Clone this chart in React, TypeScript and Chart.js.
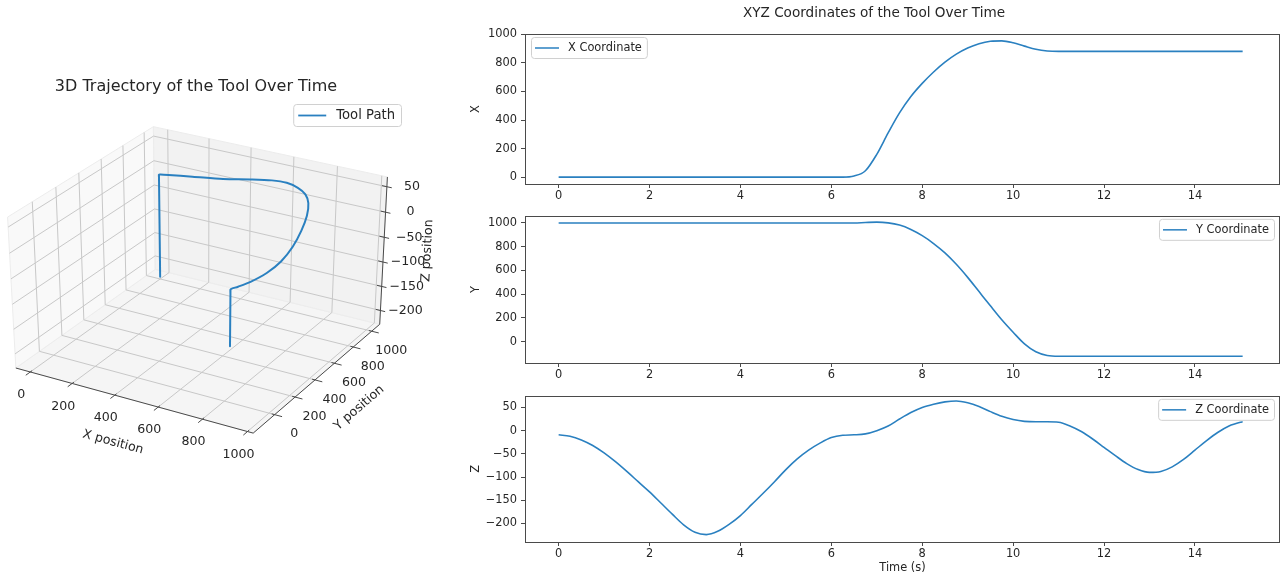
import React, { useEffect, useRef } from 'react';
import { Chart, registerables } from 'chart.js';

Chart.register(...registerables);
Chart.defaults.font.family = "'DejaVu Sans', sans-serif";

// ---------------- data ----------------
const TIME = [
  0, 0.25, 0.5, 0.75, 1, 1.25, 1.5, 1.75, 2, 2.25, 2.5, 2.75, 3, 3.25, 3.5, 3.75,
  4, 4.25, 4.5, 4.75, 5, 5.25, 5.5, 5.75, 6, 6.25, 6.5, 6.75, 7, 7.25, 7.5, 7.75,
  8, 8.25, 8.5, 8.75, 9, 9.25, 9.5, 9.75, 10, 10.25, 10.5, 10.75, 11, 11.25, 11.5, 11.75,
  12, 12.25, 12.5, 12.75, 13, 13.25, 13.5, 13.75, 14, 14.25, 14.5, 14.75, 15, 15.05,
];

const X_COORD = [
  0, 0, 0, 0, 0, 0, 0, 0, 0, 0, 0, 0, 0, 0, 0, 0,
  0, 0, 0, 0, 0, 0, 0, 0, 0, 0, 8, 45, 160, 310, 450, 565,
  657, 737, 806, 862, 905, 935, 952, 955, 942, 918, 896, 884, 881, 881, 881, 881,
  881, 881, 881, 881, 881, 881, 881, 881, 881, 881, 881, 881, 881, 881,
];

const Y_COORD = [
  1000, 1000, 1000, 1000, 1000, 1000, 1000, 1000, 1000, 1000, 1000, 1000, 1000, 1000, 1000, 1000,
  1000, 1000, 1000, 1000, 1000, 1000, 1000, 1000, 1000, 1000, 1000, 1004, 1007, 1001, 982, 945,
  893, 827, 748, 652, 542, 422, 302, 185, 80, -18, -85, -116, -122, -122, -122, -122,
  -122, -122, -122, -122, -122, -122, -122, -122, -122, -122, -122, -122, -122, -122,
];

const Z_COORD = [
  -9, -12, -20, -32, -48, -67, -88, -110, -132, -156, -180, -203, -219, -224, -217, -202,
  -183, -159, -135, -110, -84, -61, -42, -27, -15, -10, -9, -7, 0, 10, 25, 39,
  50, 57, 62, 64, 60, 52, 41, 31, 24, 20, 19, 19, 18, 10, -2, -18,
  -36, -54, -71, -84, -90, -88, -78, -62, -42, -22, -4, 10, 18, 19,
];

const TIME_TICKS = [0, 2, 4, 6, 8, 10, 12, 14];
const X_TICKS = [0, 200, 400, 600, 800, 1000];
const Y_TICKS = [0, 200, 400, 600, 800, 1000];
const Z_TICKS = [-200, -150, -100, -50, 0, 50];

const TITLE_2D = 'XYZ Coordinates of the Tool Over Time';
const TITLE_3D = '3D Trajectory of the Tool Over Time';

// ---------------- styles ----------------
const LINE = '#2a80c0';
const AXIS = '#4a4a4a';
const TEXT = '#262626';
const FONT = "'DejaVu Sans', sans-serif";
const FS = 11.4;
const FS3 = 12.6;

const fmt = (v: number) => (v < 0 ? '\u2212' + Math.abs(v) : String(v));

// ---------------- 3D projection (matplotlib style) ----------------
const LIM3 = { x: [-70, 1025], y: [-204, 1089], z: [-229, 69] };
const ELEV = 30;
const AZIM = -60;
const DIST = 10;
const BOX = [4, 4, 3].map((v) => (v * 1.8294640721620434) / Math.sqrt(41));

function project(x: number, y: number, z: number): [number, number] {
  const d = [
    ((x - LIM3.x[0]) / (LIM3.x[1] - LIM3.x[0]) - 0.5) * BOX[0],
    ((y - LIM3.y[0]) / (LIM3.y[1] - LIM3.y[0]) - 0.5) * BOX[1],
    ((z - LIM3.z[0]) / (LIM3.z[1] - LIM3.z[0]) - 0.5) * BOX[2],
  ];
  const e = (ELEV * Math.PI) / 180;
  const a = (AZIM * Math.PI) / 180;
  const w = [Math.cos(e) * Math.cos(a), Math.cos(e) * Math.sin(a), Math.sin(e)];
  const un = Math.hypot(w[0], w[1]);
  const u = [-w[1] / un, w[0] / un, 0];
  const v = [w[1] * u[2] - w[2] * u[1], w[2] * u[0] - w[0] * u[2], w[0] * u[1] - w[1] * u[0]];
  const dot = (p: number[], q: number[]) => p[0] * q[0] + p[1] * q[1] + p[2] * q[2];
  const den = DIST - dot(w, d);
  return [dot(u, d) / den, dot(v, d) / den];
}

// screen mapping of the projected plane (canvas 440 x 576)
const P3_X = { min: (0 - 201) / 2380, max: (440 - 201) / 2380 };
const P3_Y = { min: (272.8 - 576) / 2008, max: 272.8 / 2008 };

function roundRect(ctx: CanvasRenderingContext2D, x: number, y: number, w: number, h: number, r: number) {
  ctx.beginPath();
  ctx.moveTo(x + r, y);
  ctx.lineTo(x + w - r, y);
  ctx.arcTo(x + w, y, x + w, y + r, r);
  ctx.lineTo(x + w, y + h - r);
  ctx.arcTo(x + w, y + h, x + w - r, y + h, r);
  ctx.lineTo(x + r, y + h);
  ctx.arcTo(x, y + h, x, y + h - r, r);
  ctx.lineTo(x, y + r);
  ctx.arcTo(x, y, x + r, y, r);
  ctx.closePath();
}

function make3D(canvas: HTMLCanvasElement) {
  const plugin = {
    id: 'axes3d',
    beforeDatasetsDraw(chart: any) {
      const ctx: CanvasRenderingContext2D = chart.ctx;
      const sx = chart.scales.x;
      const sy = chart.scales.y;
      const P = (x: number, y: number, z: number) => {
        const [a, b] = project(x, y, z);
        return [sx.getPixelForValue(a), sy.getPixelForValue(b)];
      };
      const [x0, x1] = LIM3.x;
      const [y0, y1] = LIM3.y;
      const [z0, z1] = LIM3.z;
      const Xs = x1 - x0;
      const Ys = y1 - y0;
      ctx.save();
      const poly = (pts: number[][], fill: string) => {
        ctx.beginPath();
        pts.forEach((p, i) => {
          const [px, py] = P(p[0], p[1], p[2]);
          if (i === 0) ctx.moveTo(px, py);
          else ctx.lineTo(px, py);
        });
        ctx.closePath();
        ctx.fillStyle = fill;
        ctx.fill();
        ctx.strokeStyle = 'rgb(236,236,236)';
        ctx.lineWidth = 1;
        ctx.stroke();
      };
      poly([[x0, y0, z0], [x1, y0, z0], [x1, y1, z0], [x0, y1, z0]], 'rgb(245,245,245)');
      poly([[x0, y0, z0], [x0, y1, z0], [x0, y1, z1], [x0, y0, z1]], 'rgb(249,249,249)');
      poly([[x0, y1, z0], [x1, y1, z0], [x1, y1, z1], [x0, y1, z1]], 'rgb(242,242,242)');

      const seg = (p: number[], q: number[]) => {
        const [ax, ay] = P(p[0], p[1], p[2]);
        const [bx, by] = P(q[0], q[1], q[2]);
        ctx.beginPath();
        ctx.moveTo(ax, ay);
        ctx.lineTo(bx, by);
        ctx.stroke();
      };
      // grid
      ctx.strokeStyle = 'rgb(200,200,200)';
      ctx.lineWidth = 1;
      X_TICKS.forEach((x) => {
        seg([x, y0, z0], [x, y1, z0]);
        seg([x, y1, z0], [x, y1, z1]);
      });
      Y_TICKS.forEach((y) => {
        seg([x0, y, z0], [x1, y, z0]);
        seg([x0, y, z0], [x0, y, z1]);
      });
      Z_TICKS.forEach((z) => {
        seg([x0, y0, z], [x0, y1, z]);
        seg([x0, y1, z], [x1, y1, z]);
      });
      // axis lines
      ctx.strokeStyle = AXIS;
      ctx.lineWidth = 1;
      seg([x0, y0, z0], [x1, y0, z0]);
      seg([x1, y0, z0], [x1, y1, z0]);
      seg([x1, y1, z0], [x1, y1, z1]);
      // ticks
      X_TICKS.forEach((x) => seg([x, y0 + 0.012 * Ys, z0], [x, y0 - 0.03 * Ys, z0]));
      Y_TICKS.forEach((y) => seg([x1 - 0.012 * Xs, y, z0], [x1 + 0.03 * Xs, y, z0]));
      Z_TICKS.forEach((z) => seg([x1 - 0.02 * Xs, y1, z], [x1 + 0.02 * Xs, y1, z]));

      // tick labels
      ctx.fillStyle = TEXT;
      ctx.font = `${FS3}px ${FONT}`;
      ctx.textAlign = 'center';
      ctx.textBaseline = 'middle';
      X_TICKS.forEach((x) => {
        const [px, py] = P(x, y0, z0);
        ctx.fillText(fmt(x), px - 9, py + 23);
      });
      Y_TICKS.forEach((y) => {
        const [px, py] = P(x1, y, z0);
        ctx.fillText(fmt(y), px + 19.5, py + 19.5);
      });
      Z_TICKS.forEach((z) => {
        const [px, py] = P(x1, y1, z);
        ctx.fillText(fmt(z), px + 25, py);
      });

      // axis labels
      const label = (text: string, p: number[], q: number[], dx: number, dy: number) => {
        const [ax, ay] = P(p[0], p[1], p[2]);
        const [bx, by] = P(q[0], q[1], q[2]);
        let ang = Math.atan2(by - ay, bx - ax);
        if (ang > Math.PI / 2) ang -= Math.PI;
        if (ang <= -Math.PI / 2) ang += Math.PI;
        ctx.save();
        ctx.translate((ax + bx) / 2 + dx, (ay + by) / 2 + dy);
        ctx.rotate(ang);
        ctx.fillText(text, 0, 0);
        ctx.restore();
      };
      label('X position', [x0, y0, z0], [x1, y0, z0], -21.5, 41.7);
      label('Y position', [x1, y0, z0], [x1, y1, z0], 42.7, 29.2);
      label('Z position', [x1, y1, z0], [x1, y1, z1], 44, 0);

      // title
      ctx.font = `16px ${FONT}`;
      ctx.fillText(TITLE_3D, 196, 87);
      ctx.restore();
    },
    afterDatasetsDraw(chart: any) {
      const ctx: CanvasRenderingContext2D = chart.ctx;
      ctx.save();
      ctx.font = `13.2px ${FONT}`;
      const text = chart.data.datasets[0].label;
      const tw = ctx.measureText(text).width;
      const bw = tw + 49;
      const bh = 22;
      const bx = 401.5 - bw;
      const by = 104.5;
      roundRect(ctx, bx, by, bw, bh, 3);
      ctx.fillStyle = 'rgba(255,255,255,0.8)';
      ctx.fill();
      ctx.strokeStyle = '#d0d0d0';
      ctx.lineWidth = 1;
      ctx.stroke();
      ctx.strokeStyle = LINE;
      ctx.lineWidth = 1.8;
      ctx.beginPath();
      ctx.moveTo(bx + 4.5, by + bh / 2);
      ctx.lineTo(bx + 32.5, by + bh / 2);
      ctx.stroke();
      ctx.fillStyle = TEXT;
      ctx.textAlign = 'left';
      ctx.textBaseline = 'middle';
      ctx.fillText(text, bx + 42.5, by + bh / 2 + 0.5);
      ctx.restore();
    },
  };

  return new Chart(canvas, {
    type: 'scatter',
    data: {
      datasets: [
        {
          label: 'Tool Path',
          data: TIME.map((_, i) => {
            const [px, py] = project(X_COORD[i], Y_COORD[i], Z_COORD[i]);
            return { x: px, y: py };
          }),
          showLine: true,
          borderColor: LINE,
          borderWidth: 2,
          pointRadius: 0,
          tension: 0.3,
        },
      ],
    },
    options: {
      animation: false,
      responsive: false,
      events: [],
      layout: { padding: 0, autoPadding: false },
      plugins: { legend: { display: false }, tooltip: { enabled: false } },
      scales: {
        x: { type: 'linear', display: false, min: P3_X.min, max: P3_X.max },
        y: { type: 'linear', display: false, min: P3_Y.min, max: P3_Y.max },
      },
    },
    plugins: [plugin],
  } as any);
}

type SeriesCfg = {
  values: number[];
  label: string;
  ymin: number;
  ymax: number;
  yticks: number[];
  padTop: number;
  xAxisH: number;
  legendSide: 'left' | 'right';
  axisTitle: string;
  title?: string;
  xTitle?: string;
};

function makeSeries(canvas: HTMLCanvasElement, cfg: SeriesCfg) {
  const plugin = {
    id: 'frame',
    afterDatasetsDraw(chart: any) {
      const ctx: CanvasRenderingContext2D = chart.ctx;
      const a = chart.chartArea;
      ctx.save();
      ctx.strokeStyle = AXIS;
      ctx.lineWidth = 1;
      ctx.strokeRect(Math.round(a.left) + 0.5, Math.round(a.top) + 0.5, Math.round(a.right - a.left), Math.round(a.bottom - a.top));

      // legend
      ctx.font = `${FS}px ${FONT}`;
      const tw = ctx.measureText(cfg.label).width;
      const bw = tw + 42;
      const bh = 21;
      const bx = cfg.legendSide === 'left' ? a.left + 6 : a.right - 5 - bw;
      const by = a.top + 3;
      roundRect(ctx, bx + 0.5, by + 0.5, bw, bh, 3);
      ctx.fillStyle = 'rgba(255,255,255,0.8)';
      ctx.fill();
      ctx.strokeStyle = '#d0d0d0';
      ctx.stroke();
      ctx.strokeStyle = LINE;
      ctx.lineWidth = 1.5;
      ctx.beginPath();
      ctx.moveTo(bx + 4, by + bh / 2 + 0.5);
      ctx.lineTo(bx + 28, by + bh / 2 + 0.5);
      ctx.stroke();
      ctx.fillStyle = TEXT;
      ctx.textAlign = 'left';
      ctx.textBaseline = 'middle';
      ctx.fillText(cfg.label, bx + 37, by + bh / 2 + 1);

      // y-axis title
      ctx.save();
      ctx.translate(36, (a.top + a.bottom) / 2);
      ctx.rotate(-Math.PI / 2);
      ctx.textAlign = 'center';
      ctx.fillText(cfg.axisTitle, 0, 0);
      ctx.restore();

      if (cfg.title) {
        ctx.font = `13.6px ${FONT}`;
        ctx.textAlign = 'center';
        ctx.fillText(cfg.title, 434, 13.5);
      }
      if (cfg.xTitle) {
        ctx.font = `${FS}px ${FONT}`;
        ctx.textAlign = 'center';
        ctx.fillText(cfg.xTitle, 462.5, a.bottom + 26.5);
      }
      ctx.restore();
    },
  };

  return new Chart(canvas, {
    type: 'line',
    data: {
      datasets: [
        {
          label: cfg.label,
          data: TIME.map((t, i) => ({ x: t, y: cfg.values[i] })),
          borderColor: LINE,
          borderWidth: 1.6,
          pointRadius: 0,
          cubicInterpolationMode: 'monotone',
          fill: false,
        },
      ],
    },
    options: {
      animation: false,
      responsive: false,
      events: [],
      layout: { padding: { top: cfg.padTop, right: 3, left: 0, bottom: 0 }, autoPadding: false },
      plugins: { legend: { display: false }, tooltip: { enabled: false }, title: { display: false } },
      scales: {
        x: {
          type: 'linear',
          min: -0.74,
          max: 15.85,
          afterBuildTicks: (s: any) => {
            s.ticks = TIME_TICKS.map((v) => ({ value: v }));
          },
          afterFit: (s: any) => {
            s.height = cfg.xAxisH;
          },
          grid: { drawOnChartArea: false, drawTicks: true, tickLength: 4, tickColor: AXIS, tickWidth: 1 },
          border: { display: false },
          ticks: { color: TEXT, font: { size: FS }, padding: 1, maxRotation: 0, autoSkip: false, callback: (v: any) => fmt(Number(v)) },
        },
        y: {
          type: 'linear',
          min: cfg.ymin,
          max: cfg.ymax,
          afterBuildTicks: (s: any) => {
            s.ticks = cfg.yticks.map((v) => ({ value: v }));
          },
          afterFit: (s: any) => {
            s.width = 85;
          },
          grid: { drawOnChartArea: false, drawTicks: true, tickLength: 4, tickColor: AXIS, tickWidth: 1 },
          border: { display: false },
          ticks: { color: TEXT, font: { size: FS }, padding: 4, autoSkip: false, callback: (v: any) => fmt(Number(v)) },
        },
      },
    },
    plugins: [plugin],
  } as any);
}

export default function App() {
  const c3 = useRef<HTMLCanvasElement>(null);
  const cx = useRef<HTMLCanvasElement>(null);
  const cy = useRef<HTMLCanvasElement>(null);
  const cz = useRef<HTMLCanvasElement>(null);

  useEffect(() => {
    const charts = [
      make3D(c3.current!),
      makeSeries(cx.current!, {
        values: X_COORD, label: 'X Coordinate', ymin: -48, ymax: 1003, yticks: X_TICKS,
        padTop: 34, xAxisH: 21, legendSide: 'left', axisTitle: 'X', title: TITLE_2D,
      }),
      makeSeries(cy.current!, {
        values: Y_COORD, label: 'Y Coordinate', ymin: -179, ymax: 1060, yticks: Y_TICKS,
        padTop: 8, xAxisH: 22, legendSide: 'right', axisTitle: 'Y',
      }),
      makeSeries(cz.current!, {
        values: Z_COORD, label: 'Z Coordinate', ymin: -240, ymax: 75, yticks: Z_TICKS,
        padTop: 7, xAxisH: 34, legendSide: 'right', axisTitle: 'Z', xTitle: 'Time (s)',
      }),
    ];
    return () => charts.forEach((c) => c.destroy());
  }, []);

  const abs = (left: number, top: number): React.CSSProperties => ({ position: 'absolute', left, top, display: 'block' });

  return (
    <div style={{ position: 'absolute', left: 0, top: 0, width: 1282, height: 576, background: '#fff', overflow: 'hidden' }}>
      <canvas ref={c3} width={440} height={576} style={abs(0, 0)} />
      <canvas ref={cx} width={842} height={205} style={abs(440, 0)} />
      <canvas ref={cy} width={842} height={180} style={abs(440, 205)} />
      <canvas ref={cz} width={842} height={191} style={abs(440, 385)} />
    </div>
  );
}
